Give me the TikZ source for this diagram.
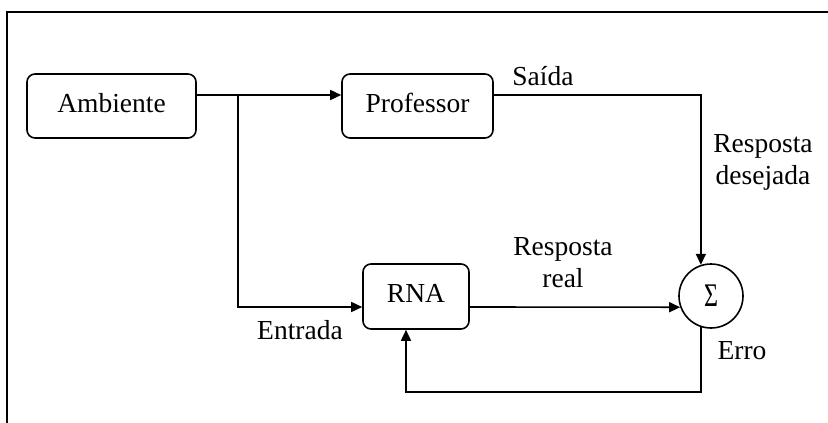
\documentclass[tikz,border=0pt]{standalone}
\usepackage{fontspec}
\setmainfont{Liberation Serif}
\usetikzlibrary{arrows.meta}
\begin{document}
\begin{tikzpicture}[x=1pt,y=-1pt,
  every node/.style={font=\fontsize{27.5}{32}\selectfont},
  blockbox/.style={draw, line width=1.6pt, rounded corners=8pt, inner sep=0pt},
  sumnode/.style={draw, circle, line width=1.6pt, minimum size=64pt, inner sep=0pt},
  lbl/.style={inner sep=0pt, anchor=base},
  mlbl/.style={inner sep=0pt, align=center},
  conn/.style={line width=1.6pt},
  arr/.style={conn, -{Triangle[length=11pt,width=10pt]}}]
\useasboundingbox (0,0) rectangle (828,423);
% frame
\draw[line width=2.5pt] (7,423) -- (7,12) -- (830,12);
% blocks
\node[blockbox, minimum width=169pt, minimum height=64pt] (amb) at (111.5,106) {};
\node[lbl] at (111.5,112) {Ambiente};
\node[blockbox, minimum width=151pt, minimum height=64pt] (prof) at (417.5,106) {};
\node[lbl] at (417.5,112) {Professor};
\node[blockbox, minimum width=106pt, minimum height=65pt] (rna) at (416,296.5) {};
\node[lbl] at (416,302) {RNA};
\node[sumnode] (sum) at (711,296) {};
\node[inner sep=0pt, font=\fontsize{30}{30}\selectfont] at (sum.center) {\scalebox{0.8}[1.1]{Σ}};
% coordinates
\coordinate (b1) at (238,95);
\coordinate (b2) at (238,307);
\coordinate (fb) at (406,392);
% connectors
\draw[conn] (amb.east |- b1) -- (b1);
\draw[arr] (b1) -- (prof.west |- b1);
\draw[arr] (b1) -- (b2) -- (rna.west |- b2);
\draw[arr] (prof.east |- b1) -| (sum.108);
\draw[arr] (rna.east |- b2) -- (sum.200);
\draw[arr] (sum.252) |- (fb) -- (fb |- rna.south);
% labels
\node[lbl] (lsaida) at (543,85) {Saída};
\node[mlbl] (ldes) at (763,162) {Resposta\\desejada};
\node[mlbl] (lreal) at (563,263) {Resposta\\real};
\node[lbl] (lerro) at (742,359) {Erro};
\node[lbl] (lent) at (300,339) {Entrada};
\end{tikzpicture}
\end{document}
